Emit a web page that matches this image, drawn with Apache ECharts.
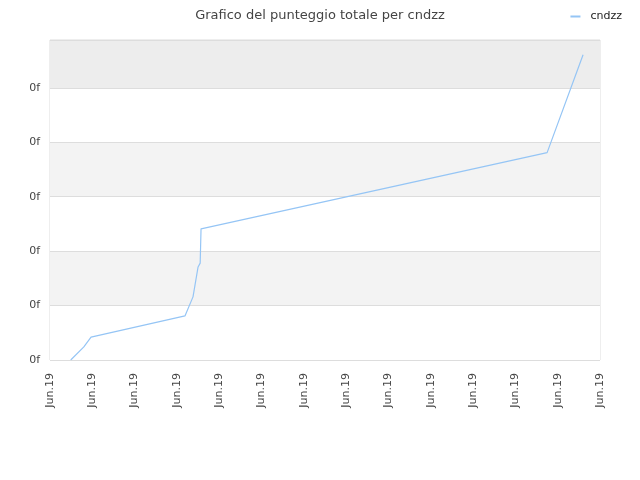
<!DOCTYPE html>
<html><head><meta charset="utf-8">
<script src="https://cdn.jsdelivr.net/npm/echarts@6/dist/echarts.min.js"></script>
<style>html,body{margin:0;padding:0;background:#fff}#c{width:640px;height:480px}</style>
</head><body><div id="c"></div>
<script>
var titleText = "Grafico del punteggio totale per cndzz";
var seriesName = "cndzz";
var xTickLabel = "Jun.19";
var yTickLabel = "0f";
var xValues = [0.49, 0.80, 0.97, 3.19, 3.38, 3.50, 3.55, 3.57, 11.75, 12.60];
var yValues = [0.00, 0.24, 0.42, 0.81, 1.16, 1.71, 1.78, 2.41, 3.81, 5.61];

var points = xValues.map(function(x, i){ return [x, yValues[i]]; });
var chart = echarts.init(document.getElementById('c'));
var font = 'DejaVu Sans';
chart.setOption({
  animation: false,
  title: { text: titleText, left: 'center', top: 4,
    textStyle: { fontFamily: font, fontSize: 13, fontWeight: 'normal', color: '#444' } },
  legend: { right: 13, top: 6, icon: 'rect', itemWidth: 10, itemHeight: 2, itemGap: 5,
    textStyle: { fontFamily: font, fontSize: 11, color: '#222', padding: [0, 0, 0, 5] },
    data: [seriesName] },
  grid: { left: 50, right: 40, top: 40, bottom: 120, show: true, borderColor: '#ddd', borderWidth: 1, containLabel: false },
  xAxis: { type: 'value', min: 0, max: 13, interval: 1,
    axisLine: { show: false }, axisTick: { show: false }, splitLine: { show: false },
    axisLabel: { rotate: 90, formatter: function(){ return xTickLabel; }, fontFamily: font, fontSize: 11, color: '#444', margin: 13 } },
  yAxis: { type: 'value', min: 0, max: 5.88, interval: 1,
    axisLine: { show: false }, axisTick: { show: false },
    splitLine: { show: true, lineStyle: { color: '#ddd', width: 1 } },
    splitArea: { show: true, areaStyle: { color: ['#ffffff','#f3f3f3','#ffffff','#f3f3f3','#ffffff','#ededed'] } },
    axisLabel: { formatter: function(v){ return v > 5.5 ? '' : yTickLabel; }, fontFamily: font, fontSize: 11, color: '#444', margin: 10 } },
  series: [{ name: seriesName, type: 'line', data: points, symbol: 'none',
    lineStyle: { color: '#95c5f5', width: 1.2 }, itemStyle: { color: '#95c5f5' } }]
});
</script></body></html>
